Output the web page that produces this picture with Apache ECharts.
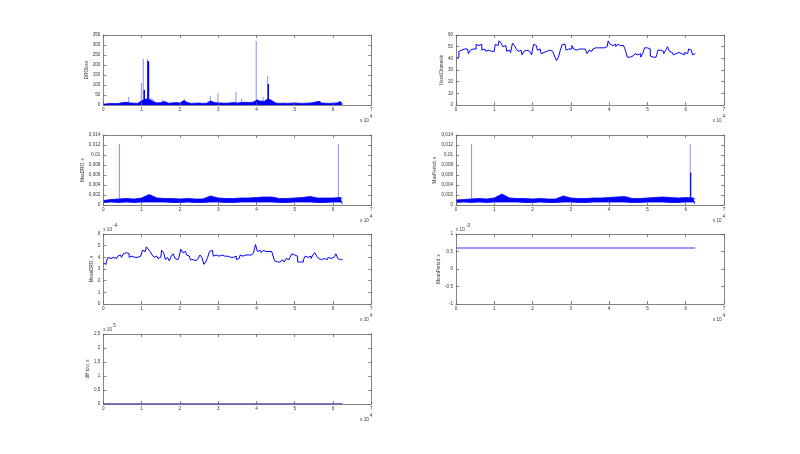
<!DOCTYPE html>
<html><head><meta charset="utf-8">
<script src="https://cdn.jsdelivr.net/npm/echarts@6/dist/echarts.min.js"></script>
<style>html,body{margin:0;padding:0;background:#fff}#c{width:800px;height:454px}</style>
</head><body><div id="c"></div>
<script>
// ================= DATA =================
// x axis tick values (sample index), shown as value/10^4
const xTicks = [0,1,2,3,4,5,6,7];

// common sample positions for UsedChannels and MeanDRO
const sampleX = [0,500,1000,1500,2000,2500,3000,3500,4000,4500,5000,5500,6000,6500,7000,7500,8000,8500,9000,9500,10000,10500,11000,11500,12000,12500,13000,13500,14000,14500,15000,15500,16000,16500,17000,17500,18000,18500,19000,19500,20000,20500,21000,21500,22000,22500,23000,23500,24000,24500,25000,25500,26000,26500,27000,27500,28000,28500,29000,29500,30000,30500,31000,31500,32000,32500,33000,33500,34000,34500,35000,35500,36000,36500,37000,37500,38000,38500,39000,39500,40000,40500,41000,41500,42000,42500,43000,43500,44000,44500,45000,45500,46000,46500,47000,47500,48000,48500,49000,49500,50000,50500,51000,51500,52000,52500,53000,53500,54000,54500,55000,55500,56000,56500,57000,57500,58000,58500,59000,59500,60000,60500,61000,61500,62000,62500];

const usedChannels = [
40,41,46,47,48,47,48,44,47,48,
48,52,51,52,47,48,46,47,46,47,
46,52,51,55,53,50,51,46,47,45,
53,51,48,46,47,43,46,47,46,45,
43,52,51,47,48,44,45,46,45,47,
46,45,42,38,41,47,52,52,47,48,
48,51,48,47,48,48,48,48,49,44,
47,46,48,49,49,48,49,49,48,50,
55,52,51,52,50,52,51,51,51,47,
41,41,42,41,44,43,44,41,44,49,
49,48,42,41,41,42,47,47,46,44,
47,50,46,45,43,44,45,44,44,43,
45,44,48,47,43,44];

// MeanDRO in units of 10^-4 s
const meanDRO = [
3.5,3.4,3.6,4.0,3.9,4.0,4.1,3.9,4.1,4.2,
4.0,4.3,4.4,4.3,4.0,4.1,4.0,4.05,4.0,4.1,
4.0,4.6,4.5,4.9,4.7,4.5,4.2,4.0,4.1,3.9,
4.0,4.6,4.4,3.8,4.0,3.7,4.1,4.3,3.9,3.8,
4.0,4.7,4.4,4.5,4.2,4.1,3.8,3.8,3.7,3.8,
3.9,4.2,4.0,3.4,3.6,4.0,4.5,4.6,4.1,4.2,
4.1,4.1,4.2,4.1,4.1,4.1,4.0,4.1,4.0,4.1,
3.8,3.9,4.2,4.1,4.2,4.1,4.2,4.2,4.3,4.4,
5.1,4.5,4.6,4.4,4.6,4.5,4.5,4.4,4.5,4.2,
3.7,3.6,3.6,3.7,3.8,3.6,3.9,3.8,4.0,4.3,
4.2,4.1,3.6,3.6,3.6,3.8,4.1,4.0,4.1,3.9,
4.2,4.4,4.1,3.9,3.8,3.9,4.0,3.8,4.0,3.9,
4.0,4.1,4.3,3.9,3.8,3.8];

// DROloss dense baseline (upper envelope) and spikes
const droBaseX = [0,1000,2000,3000,4000,5000,6000,7000,8000,9000,10000,11000,12000,13000,14000,15000,16000,17000,18000,19000,20000,21000,22000,23000,24000,25000,26000,27000,28000,29000,30000,31000,32000,33000,34000,35000,36000,37000,38000,39000,40000,41000,42000,43000,44000,45000,46000,47000,48000,49000,50000,51000,52000,53000,54000,55000,56000,57000,58000,59000,60000,61000,62000,62500];
const droBase = [
4,6,8,7,8,12,14,10,9,8,
20,30,28,18,10,12,18,9,10,12,
10,22,12,8,9,10,8,9,20,12,
10,10,9,10,12,10,12,14,12,14,
22,20,18,30,22,10,8,9,8,9,
10,9,8,9,10,12,18,10,9,8,
9,10,15,8];
const droSpikeLightX = [6700,10000,10500,11600,12500,13000,15500,21300,28000,30000,34700,36200,40000,41800,43000,43700];
const droSpikeLightY = [40,110,230,230,35,30,25,30,45,60,65,30,320,40,145,30];
const droSpikeDarkX = [10700,11700,11800,40200,43100,56500,61700];
const droSpikeDarkY = [75,220,215,28,105,20,18];

// MaxDRO band (low/high envelopes) and spikes, s
const bandX = [0,2000,4000,6000,8000,10000,12000,14000,16000,18000,20000,22000,24000,26000,28000,30000,32000,34000,36000,38000,40000,42000,44000,46000,48000,50000,52000,54000,56000,58000,60000,62000,62500];
const maxDroHigh = [0.0009,0.0011,0.0012,0.0013,0.0012,0.0014,0.0021,0.0014,0.0013,0.0013,0.0012,0.0013,0.0012,0.0012,0.0018,0.0014,0.0013,0.0013,0.0014,0.0014,0.0015,0.0016,0.0016,0.0013,0.0013,0.0014,0.0015,0.0017,0.0014,0.0014,0.0014,0.0015,0.0012];
const maxDroLow = [0.0005,0.0006,0.0005,0.0006,0.0005,0.0006,0.0006,0.0006,0.0006,0.0005,0.0005,0.0006,0.0005,0.0005,0.0006,0.0006,0.0005,0.0005,0.0006,0.0006,0.0006,0.0006,0.0006,0.0005,0.0005,0.0006,0.0006,0.0006,0.0005,0.0005,0.0006,0.0006,0.0006];
const maxDroSpikeX = [4200,61400];
const maxDroSpikeY = [0.0122,0.0122];

// MaxPeriod band and spikes, s
const maxPerHigh = [0.0010,0.0011,0.0012,0.0013,0.0012,0.0014,0.0022,0.0014,0.0013,0.0013,0.0012,0.0013,0.0012,0.0012,0.0018,0.0014,0.0013,0.0013,0.0014,0.0014,0.0015,0.0016,0.0017,0.0013,0.0013,0.0014,0.0015,0.0016,0.0015,0.0014,0.0015,0.0014,0.0012];
const maxPerLow = [0.0005,0.0006,0.0005,0.0006,0.0005,0.0006,0.0006,0.0006,0.0006,0.0005,0.0005,0.0006,0.0005,0.0005,0.0006,0.0006,0.0005,0.0005,0.0006,0.0006,0.0006,0.0006,0.0006,0.0005,0.0005,0.0006,0.0006,0.0006,0.0005,0.0005,0.0006,0.0006,0.0006];
const maxPerSpikeX = [4100,61200];
const maxPerSpikeY = [0.0122,0.0122];
const maxPerSpikeDarkX = [61300];
const maxPerSpikeDarkY = [0.0065];

// MeanPeriod (units of 10^-3 s) and diff tow (units of 10^5 s)
const meanPeriodX = [0,62500];
const meanPeriodY = [0.6,0.6];
const diffTowX = [0,62500];
const diffTowY = [0,0];

// axis names and multipliers
const yNames = ['DROloss','UsedChannels','MaxDRO, s','MaxPeriod, s','MeanDRO, s','MeanPeriod, s','diff tow, s'];
const yExp = [null,null,null,null,'-4','-3','5'];
const xExp = '4';

// ================= LAYOUT / STYLE =================
const FONT = 'Liberation Sans';
const FS = 4.6;
const TXT = '#333';
const AXC = '#666';
const W = 268, H = 70;
const panels = [
  {left:103.3, top:35,  min:0,  max:350,   interval:50,    gap:12},
  {left:456,   top:35,  min:0,  max:60,    interval:10,    gap:10},
  {left:103.3, top:135, min:0,  max:0.014, interval:0.002, gap:16},
  {left:456,   top:135, min:0,  max:0.014, interval:0.002, gap:17},
  {left:103.3, top:234, min:0,  max:6,     interval:1,     gap:7},
  {left:456,   top:234, min:-1, max:1,     interval:0.5,   gap:14.5},
  {left:103.3, top:334, min:0,  max:2.5,   interval:0.5,   gap:10.5}
];
const fmt = v => String(+(+v).toFixed(6)).replace('.', ',');
const pair = (xs, ys) => xs.map((x, i) => [x, ys[i]]);

const grid = [], xAxis = [], yAxis = [], series = [], graphic = [];
panels.forEach((p, i) => {
  grid.push({left:p.left, top:p.top, width:W, height:H, containLabel:false});
  const tick = {show:true, inside:true, length:3, lineStyle:{color:AXC, width:0.8}};
  const line = {show:true, onZero:false, lineStyle:{color:AXC, width:0.8}};
  const xBase = {type:'value', gridIndex:i, min:xTicks[0]*1e4, max:xTicks[xTicks.length-1]*1e4, interval:1e4,
    splitLine:{show:false}, axisLine:line, axisTick:tick, z:5};
  xAxis.push(Object.assign({}, xBase, {position:'bottom',
    axisLabel:{show:true, margin:2, fontSize:FS, fontFamily:FONT, color:TXT, formatter:v => String(v/1e4)}}));
  xAxis.push(Object.assign({}, xBase, {position:'top', axisLabel:{show:false}}));
  const yBase = {type:'value', gridIndex:i, min:p.min, max:p.max, interval:p.interval,
    splitLine:{show:false}, axisLine:line, axisTick:tick, z:5};
  yAxis.push(Object.assign({}, yBase, {position:'left',
    name:yNames[i], nameLocation:'middle', nameGap:p.gap,
    nameTextStyle:{fontSize:FS, fontFamily:FONT, color:TXT},
    axisLabel:{show:true, margin:3, fontSize:FS, fontFamily:FONT, color:TXT, formatter:fmt}}));
  yAxis.push(Object.assign({}, yBase, {position:'right', axisLabel:{show:false}}));

  // x multiplier "x 10^4"
  const r = p.left + W, b = p.top + H;
  graphic.push({type:'text', x:r-2.5, y:b+15.5, style:{text:'x 10', font:FS+'px "'+FONT+'"', fill:TXT, align:'right', verticalAlign:'middle'}});
  graphic.push({type:'text', x:r-1.5, y:b+11.5, style:{text:xExp, font:FS+'px "'+FONT+'"', fill:TXT, align:'left', verticalAlign:'middle'}});
  if (yExp[i]) {
    graphic.push({type:'text', x:p.left, y:p.top-4, style:{text:'x 10', font:FS+'px "'+FONT+'"', fill:TXT, align:'left', verticalAlign:'middle'}});
    graphic.push({type:'text', x:p.left+10, y:p.top-8.5, style:{text:yExp[i], font:FS+'px "'+FONT+'"', fill:TXT, align:'left', verticalAlign:'middle'}});
  }
});
const ax = i => ({xAxisIndex:2*i, yAxisIndex:2*i});
const BLUE = '#0000ff', LIGHT = '#8a8aff';
const lineS = (i, data, color, width, extra) => Object.assign({type:'line', data, symbol:'none', smooth:false, animation:false,
  lineStyle:{color, width}, itemStyle:{color}}, ax(i), extra || {});
const barS = (i, data, color, w) => Object.assign({type:'bar', data, barWidth:w, barGap:'-100%', animation:false,
  itemStyle:{color}}, ax(i));

// Panel 1: DROloss
series.push(lineS(0, pair(droBaseX, droBase), BLUE, 0.8, {areaStyle:{color:BLUE, opacity:1}}));
series.push(barS(0, pair(droSpikeLightX, droSpikeLightY), LIGHT, 1));
series.push(barS(0, pair(droSpikeDarkX, droSpikeDarkY), BLUE, 1.5));
// Panel 2: UsedChannels
series.push(lineS(1, pair(sampleX, usedChannels), BLUE, 1, {step:'middle'}));
// Panel 3: MaxDRO
series.push(lineS(2, pair(bandX, maxDroHigh), BLUE, 0.8, {areaStyle:{color:BLUE, opacity:1}}));
series.push(lineS(2, pair(bandX, maxDroLow), BLUE, 0.8, {areaStyle:{color:'#ffffff', opacity:1}}));
series.push(barS(2, pair(maxDroSpikeX, maxDroSpikeY), LIGHT, 1));
// Panel 4: MaxPeriod
series.push(lineS(3, pair(bandX, maxPerHigh), BLUE, 0.8, {areaStyle:{color:BLUE, opacity:1}}));
series.push(lineS(3, pair(bandX, maxPerLow), BLUE, 0.8, {areaStyle:{color:'#ffffff', opacity:1}}));
series.push(barS(3, pair(maxPerSpikeX, maxPerSpikeY), LIGHT, 1));
series.push(barS(3, pair(maxPerSpikeDarkX, maxPerSpikeDarkY), BLUE, 1.2));
// Panel 5: MeanDRO
series.push(lineS(4, pair(sampleX, meanDRO), BLUE, 1, {step:'middle'}));
// Panel 6: MeanPeriod
series.push(lineS(5, pair(meanPeriodX, meanPeriodY), '#9c9cff', 1.8));
// Panel 7: diff tow
series.push(lineS(6, pair(diffTowX, diffTowY), '#4848d0', 1.5));

const chart = echarts.init(document.getElementById('c'), null, {renderer:'canvas'});
chart.setOption({backgroundColor:'#ffffff', animation:false, grid, xAxis, yAxis, series, graphic});
</script></body></html>
